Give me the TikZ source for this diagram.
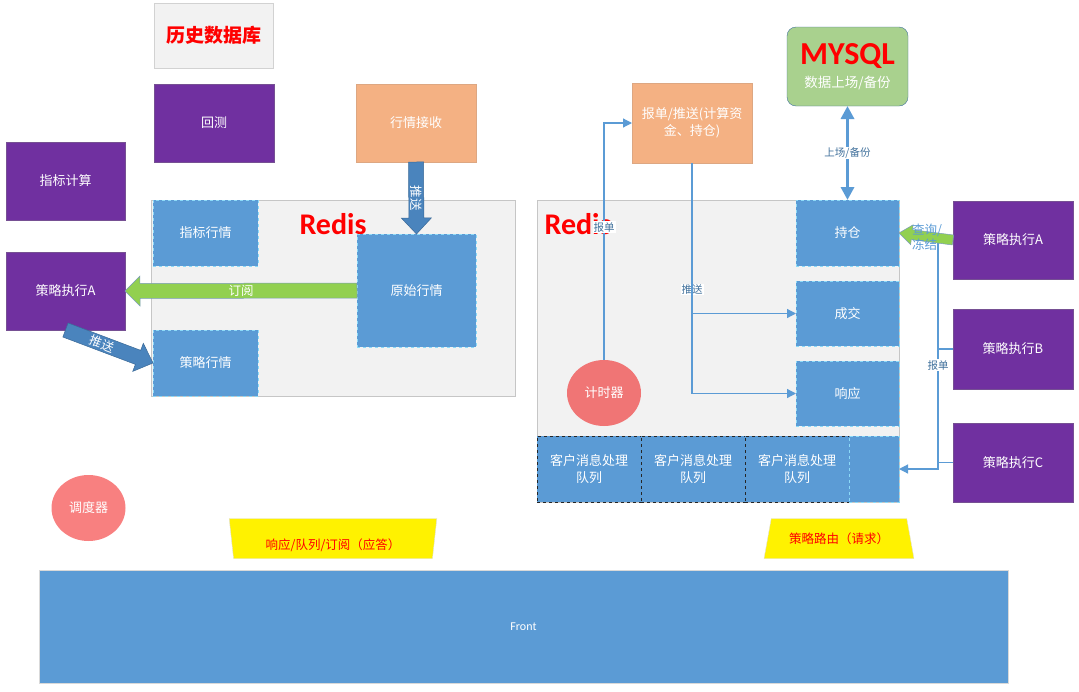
\documentclass[tikz,border=0pt]{standalone}
\usepackage{fontspec}
\setmainfont{Noto Sans CJK SC}
\newfontfamily\latinf{Carlito}
\usetikzlibrary{calc,positioning,shapes.geometric,arrows.meta}
\definecolor{ppl}{HTML}{7030A0}
\definecolor{blu}{HTML}{5B9BD5}
\definecolor{org}{HTML}{F4B183}
\definecolor{grn}{HTML}{A9D18E}
\definecolor{lime}{HTML}{92D050}
\definecolor{bg}{HTML}{F2F2F2}
\definecolor{lnc}{HTML}{5B9BD5}
\definecolor{steel}{HTML}{4A84BD}
\definecolor{tmr}{HTML}{F07575}
\definecolor{ddc}{HTML}{F88080}
\definecolor{edge}{HTML}{41719C}
\def\BoxW{120pt}
\def\BoxH{78pt}
\def\CellW{104pt}
\def\CellH{66pt}
\def\Gap{15pt}
% block arrow: tail, tip, half shaft, half head, head length, style
\newcommand\blockarrow[6]{%
  \coordinate (bahead) at ($(#2)!#5!(#1)$);
  \filldraw[#6] ($(#1)!#3!90:(#2)$) -- ($(bahead)!#3!-90:(#1)$) -- ($(bahead)!#4!-90:(#1)$)
    -- (#2) -- ($(bahead)!#4!90:(#1)$) -- ($(bahead)!#3!90:(#1)$) -- ($(#1)!#3!-90:(#2)$) -- cycle;
}

\begin{document}
\begin{tikzpicture}[x=1pt,y=-1pt,
    box/.style={anchor=north west, inner sep=2pt, outer sep=0pt, align=center, text=white,
      font=\fontsize{13}{17}\selectfont},
    purplebox/.style={box, fill=ppl, draw=ppl!60!gray},
    orangebox/.style={box, fill=org, draw=org!80!gray},
    bluebox/.style={box, fill=blu, draw=cyan!45, dashed, line width=0.9pt},
    qbox/.style={box, fill=blu, draw=black!85, dashed, line width=0.9pt},
    container/.style={anchor=north west, draw=gray!45, fill=bg, inner sep=0pt},
    redisfont/.style={text=red, font=\latinf\bfseries\fontsize{30}{32}\selectfont},
    roundbox/.style={ellipse, text=white, minimum width=74pt, minimum height=66pt,
      font=\fontsize{13}{15}\selectfont},
    tagbox/.style={trapezium, trapezium stretches=true, fill=yellow, draw=gray!25,
      minimum height=40pt, text=red, font=\fontsize{12.5}{15}\selectfont},
    arrowtxt/.style={text=white, inner sep=0pt, font=\fontsize{12.5}{15}\selectfont},
    conn/.style={draw=lnc, line width=1.2pt},
    arr/.style={conn, -{Triangle[width=9pt,length=9pt]}},
    lbl/.style={fill=white, inner sep=1pt, text=edge, font=\fontsize{10.5}{12}\selectfont}]
\useasboundingbox (0,0) rectangle (1079,691);
% left part
\node[box, fill=bg, draw=gray!35, text=red, minimum width=119pt, minimum height=65pt,
  font=\bfseries\fontsize{19}{22}\selectfont] (lsdb) at (154,3) {历史数据库};
\node[purplebox, minimum width=\BoxW, minimum height=\BoxH] (hc) at (154,84) {回测};
\node[orangebox, minimum width=\BoxW, minimum height=\BoxH] (hqjs) at (356,84) {行情接收};
\node[purplebox, minimum width=119pt, minimum height=\BoxH] (zbjs) at (6,142) {指标计算};
\node[purplebox, minimum width=119pt, minimum height=\BoxH] (clA) at (6,252) {策略执行A};
\node[container, minimum width=364pt, minimum height=196pt] (redisL) at (151,200) {};
\node[redisfont] (redisLt) at (333,224) {Redis};
\node[bluebox, minimum width=105pt, minimum height=66pt] (zbhq) at (153,200) {指标行情};
\node[bluebox, minimum width=119pt, minimum height=113pt] (yshq) at (357,234) {原始行情};
\node[bluebox, minimum width=105pt, minimum height=66pt] (clhq) at (153,330) {策略行情};
% block arrows
\blockarrow{hqjs.south}{yshq.north}{7.5pt}{15pt}{16pt}{fill=steel, draw=steel!80!black, line width=0.5pt}
\node[arrowtxt, rotate=-90] (tsV) at ($(hqjs.south)!0.5!(yshq.north)$) {推送};
\blockarrow{yshq.west}{clA.east}{7.5pt}{15pt}{15pt}{fill=lime, draw=edge!70, line width=0.5pt}
\node[arrowtxt] (dy) at ($(yshq.west)!0.5!(clA.east)$) {订阅};
\blockarrow{clA.south}{clhq.west}{7.5pt}{15pt}{16pt}{fill=steel, draw=steel!80!black, line width=0.5pt}
\node[arrowtxt, rotate=-21] (tsD) at ($(clA.south)!0.42!(clhq.west)$) {推送};
% right part
\node[box, fill=grn, draw=edge, rounded corners=9pt, minimum width=121pt, minimum height=79pt]
  (mysql) at (787,27) {{\latinf\bfseries\color{red}\fontsize{32}{30}\selectfont MYSQL}\\[6pt]
  {\fontsize{13.5}{15}\selectfont 数据上场/备份}};
\node[orangebox, minimum width=120pt, minimum height=80pt] (bdts) at (632,83) {报单/推送(计算资\\金、持仓)};
\node[container, minimum width=362pt, minimum height=302pt] (redisR) at (537,200) {};
\node[redisfont, anchor=west] (redisRt) at (541,224) {Redis};
\node[bluebox, minimum width=103pt, minimum height=66pt] (cc) at (796,200) {持仓};
\node[bluebox, minimum width=103pt, minimum height=65pt, below=\Gap of cc] (cj) {成交};
\node[bluebox, minimum width=103pt, minimum height=65pt, below=\Gap of cj] (xy) {响应};
\node[qbox, minimum width=\CellW, minimum height=\CellH] (q1) at (537,436) {客户消息处理\\队列};
\node[qbox, minimum width=\CellW, minimum height=\CellH, right=0pt of q1] (q2) {客户消息处理\\队列};
\node[qbox, minimum width=\CellW, minimum height=\CellH, right=0pt of q2] (q3) {客户消息处理\\队列};
\node[bluebox, minimum width=50pt, minimum height=\CellH, right=0pt of q3] (q4) {};
\node[roundbox, fill=tmr] (timer) at (604,393) {计时器};
\node[purplebox, minimum width=\BoxW, minimum height=\BoxH] (clA2) at (953,201) {策略执行A};
\node[purplebox, minimum width=\BoxW, minimum height=80pt] (clB) at (953,309) {策略执行B};
\node[purplebox, minimum width=\BoxW, minimum height=79pt] (clC) at (953,423) {策略执行C};
% connectors
\draw[arr] (timer.north) |- node[lbl, pos=0.28] (bdlbl) {报单} (bdts.west);
\draw[arr] (bdts.south) |- node[lbl, pos=0.42] (tslbl) {推送} (cj.west);
\draw[arr] (bdts.south) |- (xy.west);
\draw[conn, line width=3.2pt, {Triangle[width=13pt,length=13pt]}-{Triangle[width=13pt,length=13pt]}]
  (mysql.south) -- node[lbl] (scbf) {上场/备份} (cc.north);
\coordinate (bdtop) at (938,243);
\coordinate (bdbot) at (938,469);
\draw[conn] (clB.west) -- (clB.west -| bdtop);
\draw[conn] (clC.west) -- (clC.west -| bdtop);
\draw[arr] (bdtop) -- node[lbl, pos=0.54] (bdlbl2) {报单} (bdbot) -- (bdbot -| q4.east);
\blockarrow{clA2.west}{cc.east}{5pt}{10pt}{13pt}{fill=lime, draw=edge!70, line width=0.5pt}
\node[align=left, inner sep=0pt, text=blu, font=\fontsize{12.5}{15}\selectfont] (cxdj) at (927,237) {查询/\\冻结};
% bottom
\node[roundbox, fill=ddc] (ddq) at (88.5,508) {调度器};
\node[tagbox, trapezium angle=65, shape border rotate=180, minimum width=208pt] (tagA) at (333,538.5)
  {\raisebox{-11pt}[0pt][0pt]{响应/队列/订阅（应答）}};
\node[tagbox, trapezium angle=73, minimum width=150pt] (tagB) at (839,538.5) {策略路由（请求）};
\node[box, fill=blu, draw=gray!30, minimum width=969pt, minimum height=113pt,
  font=\latinf\fontsize{12}{14}\selectfont] (front) at (39,570) {Front};
\end{tikzpicture}
\end{document}
